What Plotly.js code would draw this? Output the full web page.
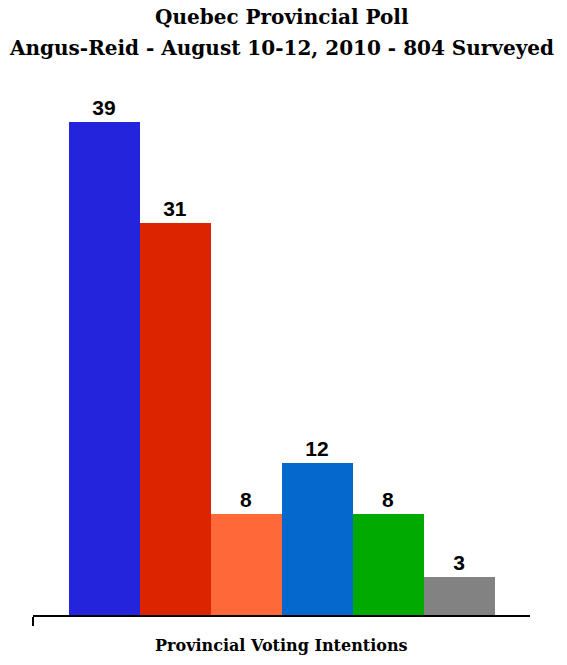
<!DOCTYPE html>
<html>
<head>
<meta charset="utf-8">
<script src="https://cdn.plot.ly/plotly-3.0.1.min.js"></script>
<style>
  html, body { margin: 0; padding: 0; background: #fff; }
  #chart { width: 567px; height: 665px; }
</style>
</head>
<body>
<div id="chart"></div>
<script>
// Angus-Reid, Aug 10-12 2010 - provincial voting intentions (%)
const parties = ['PQ', 'Liberal', 'ADQ', 'QS', 'Green', 'Other'];
const support = [39, 31, 8, 12, 8, 3];
const barColors = ['#2424DC', '#DC2400', '#FF6838', '#0468CC', '#00AA00', '#828282'];

const titleLines = ['Quebec Provincial Poll', 'Angus-Reid - August 10-12, 2010 - 804 Surveyed'];
const xTitle = 'Provincial Voting Intentions';

const serif = 'DejaVu Serif, Liberation Serif, serif';

const data = [{
    x: parties.map((p, i) => i),
    y: support,
    type: 'bar',
    marker: { color: barColors, line: { width: 0 } },
    text: support.map(String),
    textposition: 'outside',
    cliponaxis: false,
    textfont: { family: 'Liberation Sans, Arial, sans-serif', size: 21, color: '#000', weight: 'bold' },
    hovertext: parties,
    hoverinfo: 'text+y'
}];

// plot area is 506px tall starting 109px from the top
const plotH = 506;
const titleAnn = (txt, py, size) => ({
    text: '<b>' + txt + '</b>',
    xref: 'paper', yref: 'paper',
    x: 0.5, y: 1 + (109 - py) / plotH,
    xanchor: 'center', yanchor: 'middle',
    showarrow: false,
    font: { family: serif, size: size, color: '#000' }
});

const layout = {
    width: 567,
    height: 665,
    margin: { t: 109, b: 50, l: 33, r: 37 },
    paper_bgcolor: '#fff',
    plot_bgcolor: '#fff',
    showlegend: false,
    bargap: 0,
    annotations: [
        titleAnn(titleLines[0], 17, 20),
        titleAnn(titleLines[1], 48, 20),
        titleAnn(xTitle, 645, 16)
    ],
    xaxis: {
        range: [-1, 6],
        showgrid: false,
        zeroline: false,
        showline: true,
        linecolor: '#000',
        linewidth: 1.5,
        tickvals: [-1],
        ticks: 'outside',
        ticklen: 9,
        tickwidth: 1.5,
        tickcolor: '#000',
        showticklabels: false
    },
    yaxis: {
        range: [0, 40],
        visible: false,
        fixedrange: true
    }
};

Plotly.newPlot('chart', data, layout, { displayModeBar: false, staticPlot: true });
</script>
</body>
</html>
